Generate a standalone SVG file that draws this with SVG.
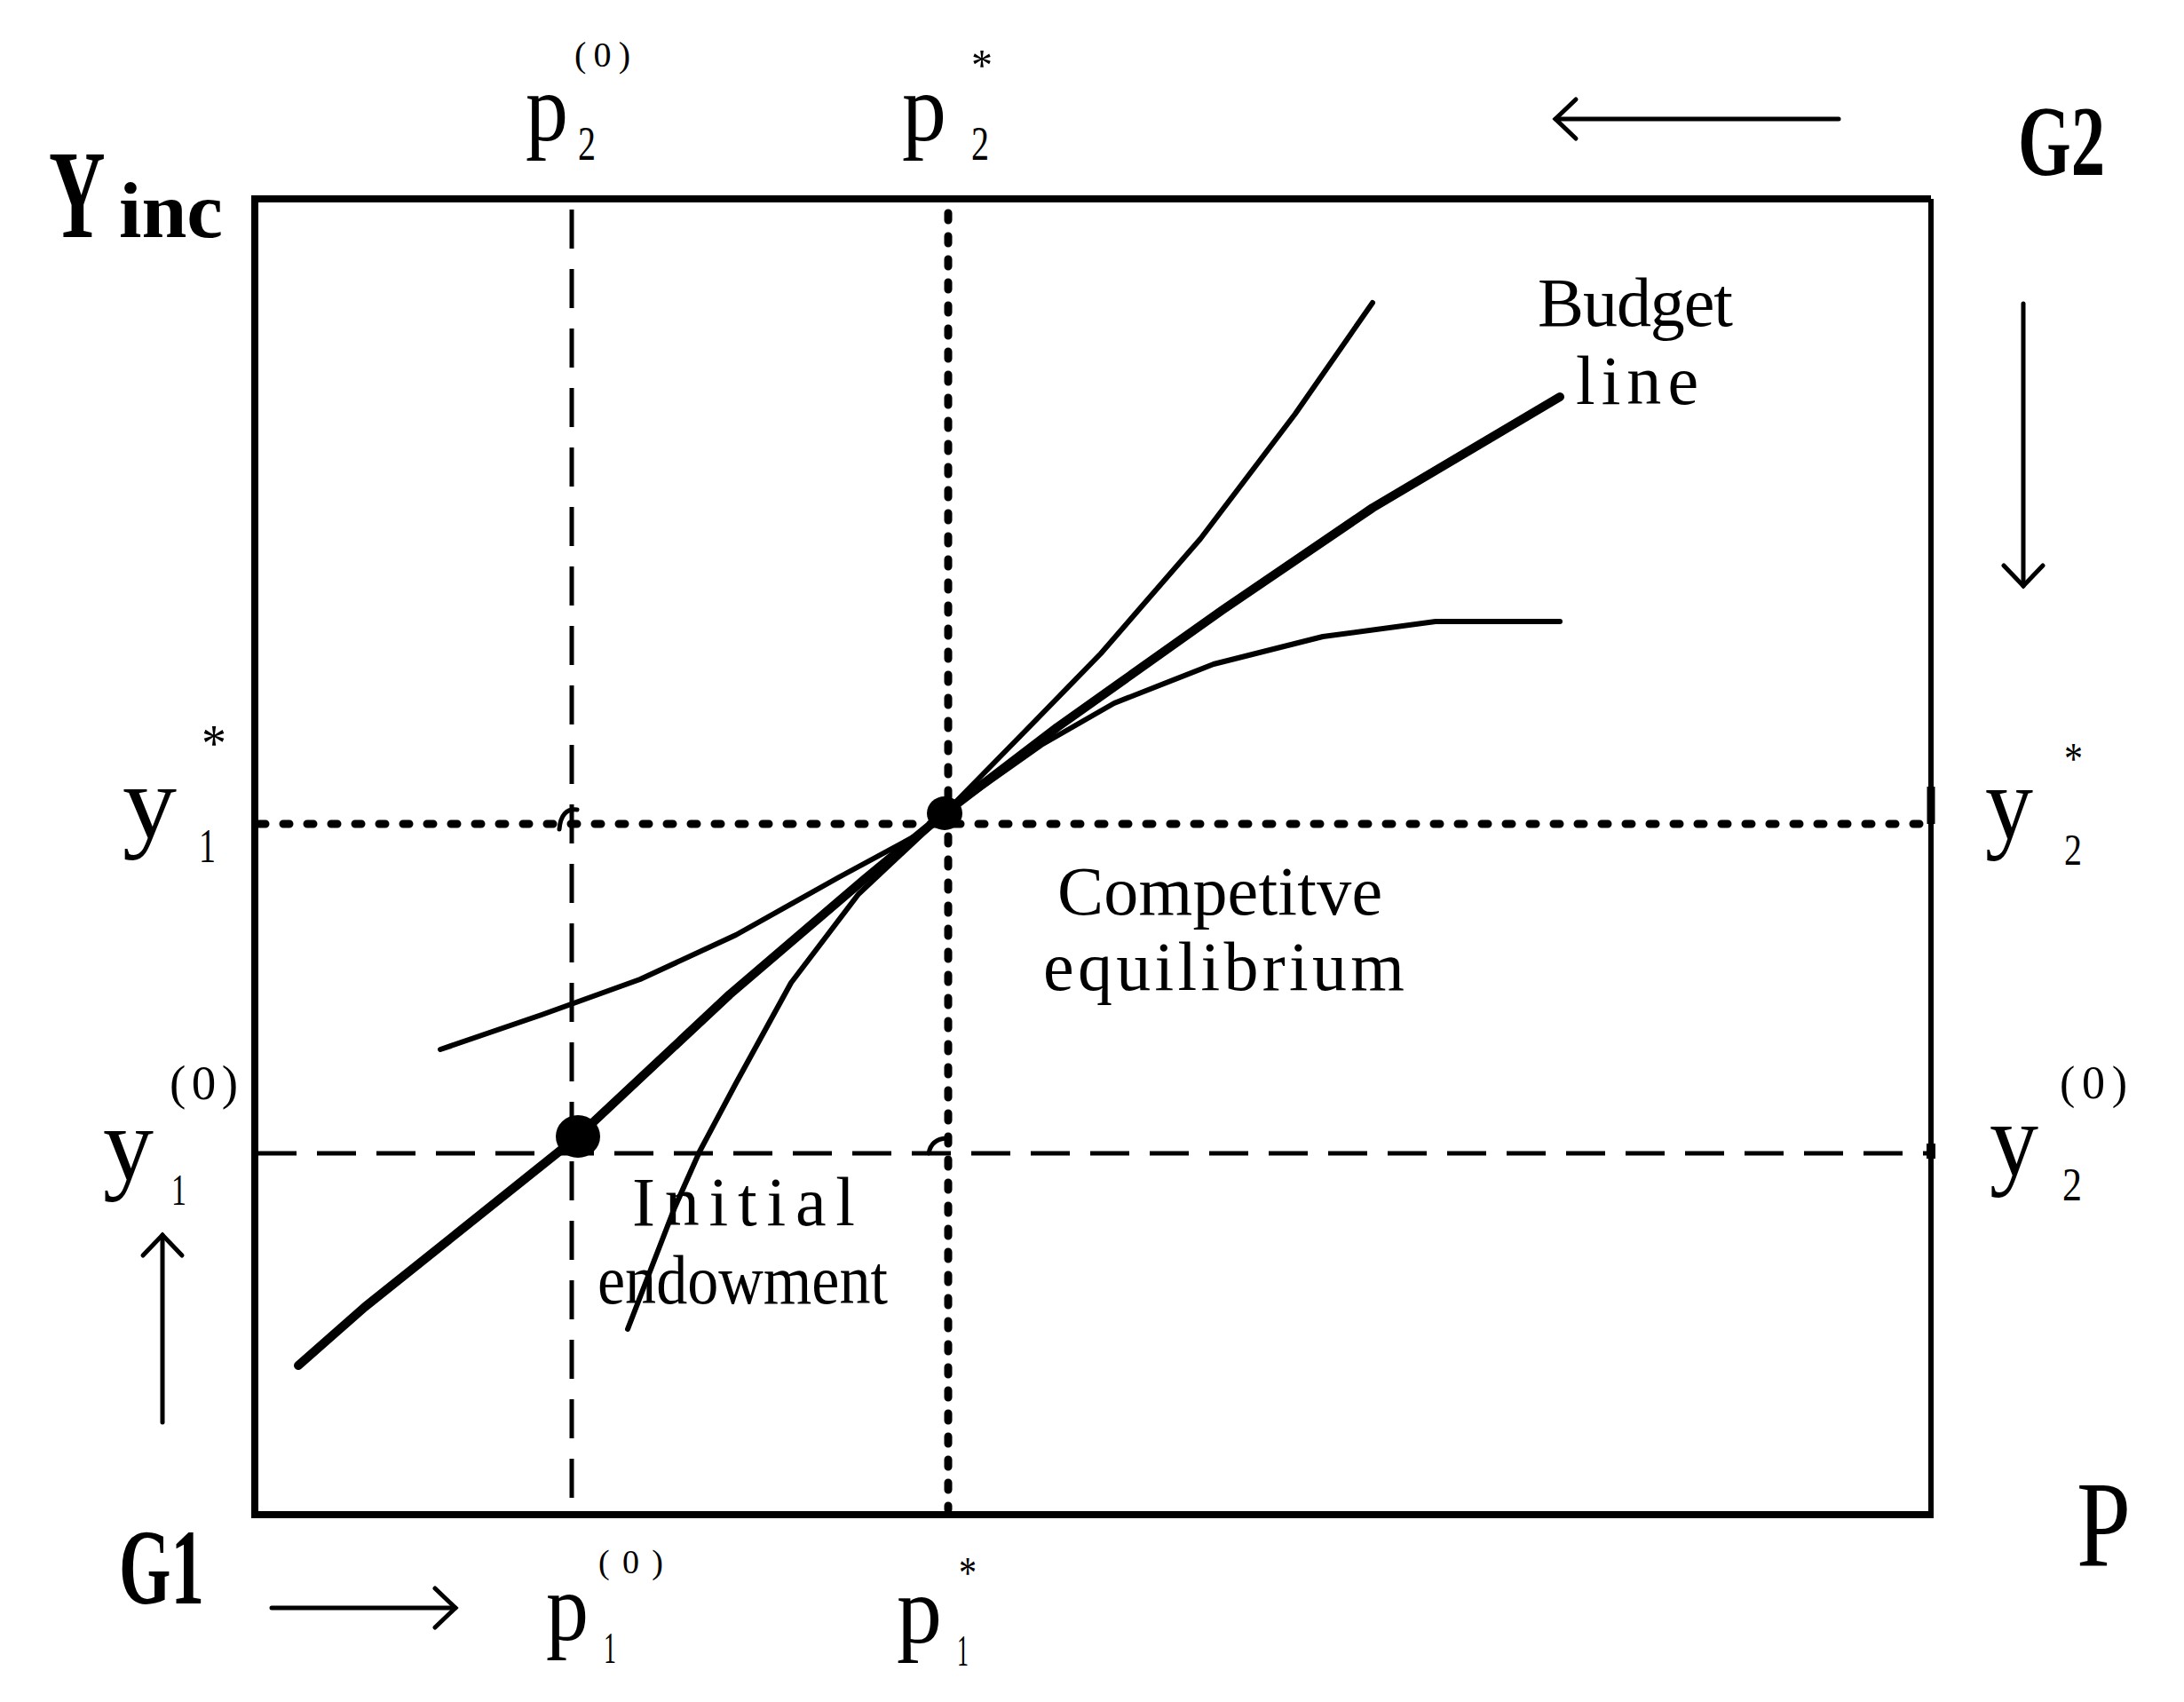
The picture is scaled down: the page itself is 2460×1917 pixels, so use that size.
<svg xmlns="http://www.w3.org/2000/svg" width="2460" height="1917" viewBox="0 0 2460 1917">
<style>
.lbl{font-family:"Liberation Serif","Times New Roman",serif;fill:#000}
.bold{font-weight:bold}
.txt{font-family:"Liberation Serif","Times New Roman",serif;font-size:78px;fill:#000}
.dash{stroke:#000;stroke-width:5;fill:none;stroke-dasharray:44 23}
.dot{stroke:#000;stroke-width:9;fill:none;stroke-linecap:round}
.curve{stroke:#000;stroke-width:6;fill:none;stroke-linejoin:round;stroke-linecap:round}
.budget{stroke:#000;stroke-width:10;fill:none;stroke-linejoin:round;stroke-linecap:round}
.arrow{stroke:#000;stroke-width:5;fill:none;stroke-linecap:round;marker-end:url(#chev)}
</style>
<defs>
<marker id="chev" markerUnits="userSpaceOnUse" markerWidth="60" markerHeight="60" refX="0" refY="0" orient="auto" viewBox="-30 -30 60 60" overflow="visible">
<path d="M -23 -22 L 0 0 L -23 22" stroke="#000" stroke-width="5" fill="none" stroke-linecap="round" stroke-linejoin="miter"/>
</marker>
</defs>
<rect width="2460" height="1917" fill="#fff"/>

<g id="box">
<path d="M 287 224 L 2175 224 M 287 220 L 287 1706 L 2175 1706" stroke="#000" stroke-width="8" fill="none"/>
<path d="M 2175 224 L 2175 1710" stroke="#000" stroke-width="6" fill="none"/>
</g>

<g id="guides">
<line class="dash" x1="644" y1="236" x2="644" y2="1690"/>
<line class="dash" x1="290" y1="1299" x2="2175" y2="1299"/>
<line class="dot" x1="1068" y1="240" x2="1068" y2="1700" stroke-dasharray="8 18" stroke-width="8"/>
<line class="dot" x1="292" y1="928" x2="2170" y2="928" stroke-dasharray="7 20"/>
<path d="M 630 934 Q 632 910 650 912" stroke="#000" stroke-width="5" fill="none" stroke-linecap="round"/>
<path d="M 1046 1299 Q 1049 1283 1066 1282" stroke="#000" stroke-width="5" fill="none" stroke-linecap="round"/>
<line x1="2175" y1="886" x2="2175" y2="928" stroke="#000" stroke-width="9"/>
<line x1="2175" y1="1288" x2="2175" y2="1305" stroke="#000" stroke-width="10"/>
</g>

<g id="curves">
<polyline id="budget-line" class="budget" points="336,1538 411,1472 651,1280 822,1120 974,990 1064,916 1191,819 1377,687 1546,572 1757,447"/>
<polyline id="curve-steep" class="curve" points="707,1497 760,1360 788,1297 829,1220 891,1107 967,1007 1064,916 1163,815 1240,736 1352,607 1459,466 1546,341"/>
<polyline id="curve-flat" class="curve" points="496,1182 610,1143 721,1103 829,1053 945,988 1034,940 1064,916 1173,839 1255,792 1367,748 1490,717 1617,700 1757,700"/>
</g>

<g id="points">
<ellipse id="endowment-point" cx="651" cy="1280" rx="25" ry="24" fill="#000"/>
<ellipse id="equilibrium-point" cx="1064" cy="916" rx="20" ry="19" fill="#000"/>
</g>

<g id="connectors">
<line class="arrow" x1="2071" y1="134" x2="1752" y2="134"/>
<line class="arrow" x1="2279" y1="342" x2="2279" y2="660"/>
<line class="arrow" x1="306" y1="1811" x2="513" y2="1811"/>
<line class="arrow" x1="183" y1="1602" x2="183" y2="1391"/>
</g>

<g id="axis-labels">
<text class="lbl bold" transform="translate(55 267) scale(0.62 1)" x="0" y="0" font-size="142">Y</text>
<text class="lbl bold" x="134" y="267" font-size="88" textLength="117" lengthAdjust="spacingAndGlyphs">inc</text>
<text class="lbl bold" x="2273" y="197" font-size="113" textLength="98" lengthAdjust="spacingAndGlyphs">G2</text>
<text class="lbl bold" x="134" y="1806" font-size="120" textLength="96" lengthAdjust="spacingAndGlyphs">G1</text>
<text class="lbl" x="2339" y="1763" font-size="138" textLength="61" lengthAdjust="spacingAndGlyphs">P</text>
</g>

<g id="p2-0">
<text class="lbl" x="592" y="158" font-size="108" textLength="48" lengthAdjust="spacingAndGlyphs">p</text>
<text class="lbl" x="651" y="180" font-size="54" textLength="20" lengthAdjust="spacingAndGlyphs">2</text>
<text class="lbl" x="647" y="75" font-size="40" textLength="63" lengthAdjust="spacing">(0)</text>
</g>
<g id="p2-star">
<text class="lbl" x="1016" y="158" font-size="108" textLength="50" lengthAdjust="spacingAndGlyphs">p</text>
<text class="lbl" x="1094" y="180" font-size="54" textLength="20" lengthAdjust="spacingAndGlyphs">2</text>
<text class="lbl" x="1094" y="90" font-size="50" textLength="24" lengthAdjust="spacingAndGlyphs">*</text>
</g>
<g id="y1-star">
<text class="lbl" x="138" y="944" font-size="118" textLength="61" lengthAdjust="spacingAndGlyphs">y</text>
<text class="lbl" x="224" y="971" font-size="54" textLength="19" lengthAdjust="spacingAndGlyphs">1</text>
<text class="lbl" x="227" y="857" font-size="60" textLength="28" lengthAdjust="spacingAndGlyphs">*</text>
</g>
<g id="y1-0">
<text class="lbl" x="116" y="1329" font-size="118" textLength="57" lengthAdjust="spacingAndGlyphs">y</text>
<text class="lbl" x="193" y="1357" font-size="50" textLength="17" lengthAdjust="spacingAndGlyphs">1</text>
<text class="lbl" x="191" y="1238" font-size="55" textLength="77" lengthAdjust="spacing">(0)</text>
</g>
<g id="y2-star">
<text class="lbl" x="2236" y="945" font-size="118" textLength="54" lengthAdjust="spacingAndGlyphs">y</text>
<text class="lbl" x="2325" y="974" font-size="50" textLength="20" lengthAdjust="spacingAndGlyphs">2</text>
<text class="lbl" x="2325" y="871" font-size="50" textLength="21" lengthAdjust="spacingAndGlyphs">*</text>
</g>
<g id="y2-0">
<text class="lbl" x="2241" y="1324" font-size="118" textLength="55" lengthAdjust="spacingAndGlyphs">y</text>
<text class="lbl" x="2323" y="1352" font-size="52" textLength="22" lengthAdjust="spacingAndGlyphs">2</text>
<text class="lbl" x="2320" y="1237" font-size="52" textLength="76" lengthAdjust="spacing">(0)</text>
</g>
<g id="p1-0">
<text class="lbl" x="615" y="1847" font-size="108" textLength="48" lengthAdjust="spacingAndGlyphs">p</text>
<text class="lbl" x="680" y="1873" font-size="50" textLength="14" lengthAdjust="spacingAndGlyphs">1</text>
<text class="lbl" x="674" y="1772" font-size="38" textLength="73" lengthAdjust="spacing">(0)</text>
</g>
<g id="p1-star">
<text class="lbl" x="1010" y="1850" font-size="108" textLength="51" lengthAdjust="spacingAndGlyphs">p</text>
<text class="lbl" x="1078" y="1876" font-size="50" textLength="13" lengthAdjust="spacingAndGlyphs">1</text>
<text class="lbl" x="1080" y="1788" font-size="50" textLength="20" lengthAdjust="spacingAndGlyphs">*</text>
</g>

<g id="budget-label">
<text class="txt" x="1732" y="367" textLength="220" lengthAdjust="spacing">Budget</text>
<text class="txt" x="1775" y="455" textLength="138" lengthAdjust="spacing">line</text>
</g>
<g id="equilibrium-label">
<text class="txt" x="1191" y="1030" textLength="366" lengthAdjust="spacing">Competitve</text>
<text class="txt" x="1175" y="1115" textLength="407" lengthAdjust="spacing">equilibrium</text>
</g>
<g id="endowment-label">
<text class="txt" x="712" y="1380" textLength="251" lengthAdjust="spacing">Initial</text>
<text class="txt" x="673" y="1468" textLength="327" lengthAdjust="spacingAndGlyphs">endowment</text>
</g>
</svg>
